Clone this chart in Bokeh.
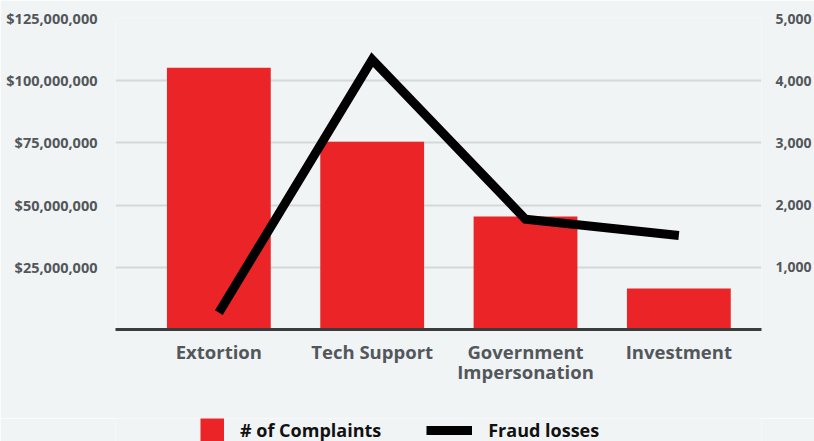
from bokeh.plotting import figure
from bokeh.layouts import column
from bokeh.models import (Range1d, LinearAxis, FixedTicker, NumeralTickFormatter,
                          Legend, LegendItem, ColumnDataSource)
from bokeh.embed import file_html
from bokeh.resources import INLINE

# ---- data ----
categories = ["Extortion", "Tech Support", "Government Impersonation", "Investment"]
tick_labels = ["Extortion", "Tech Support", "Government\nImpersonation", "Investment"]
complaints = [4210, 3020, 1815, 660]
fraud_losses = [6800000, 108500000, 44300000, 37800000]
money_ticks = [25000000, 50000000, 75000000, 100000000, 125000000]
count_ticks = [1000, 2000, 3000, 4000, 5000]
legend_labels = ["# of Complaints", "Fraud losses"]

BG = "#f1f4f5"
RED = "#ea2427"
TXT = "#53575b"
FONT = "Open Sans"

xs = list(range(len(categories)))
source = ColumnDataSource(dict(x=xs, complaints=complaints, losses=fraud_losses, name=categories))

p = figure(width=814, height=418, output_backend="svg", toolbar_location=None,
           x_range=Range1d(-0.674, 3.539), y_range=Range1d(0, 125000000),
           min_border_left=115, min_border_right=46, min_border_top=18, min_border_bottom=89,
           background_fill_color=BG, border_fill_color=BG, outline_line_color=None)
p.extra_y_ranges = {"count": Range1d(0, 5000)}

bars = p.vbar(x="x", top="complaints", width=0.677, source=source, y_range_name="count",
              fill_color=RED, line_color=None)
line = p.line(x="x", y="losses", source=source, line_color="black", line_width=9,
              line_join="miter", line_cap="butt")

# grid
p.xgrid.visible = False
p.ygrid.ticker = FixedTicker(ticks=[0] + money_ticks)
p.ygrid.grid_line_color = "#d5d8da"
p.ygrid.grid_line_width = 2

# left axis
ya = p.yaxis[0]
ya.ticker = FixedTicker(ticks=money_ticks)
ya.formatter = NumeralTickFormatter(format="$0,0")
ya.axis_line_color = None
ya.major_tick_line_color = None
ya.minor_tick_line_color = None
ya.major_label_standoff = 12
ya.major_label_text_font = FONT
ya.major_label_text_font_style = "bold"
ya.major_label_text_font_size = "14.5px"
ya.major_label_text_color = TXT

# right axis
ra = LinearAxis(y_range_name="count", ticker=FixedTicker(ticks=count_ticks),
                formatter=NumeralTickFormatter(format="0,0"))
ra.axis_line_color = None
ra.major_tick_line_color = None
ra.minor_tick_line_color = None
ra.major_label_standoff = 8
ra.major_label_text_font = FONT
ra.major_label_text_font_style = "bold"
ra.major_label_text_font_size = "14px"
ra.major_label_text_color = TXT
p.add_layout(ra, "right")

# bottom axis
xa = p.xaxis[0]
xa.ticker = FixedTicker(ticks=xs)
xa.major_label_overrides = {i: lab for i, lab in zip(xs, tick_labels)}
xa.axis_line_color = "#3a3d40"
xa.axis_line_width = 3
xa.major_tick_line_color = None
xa.minor_tick_line_color = None
xa.major_label_standoff = 3
xa.major_label_text_font = FONT
xa.major_label_text_font_style = "bold"
xa.major_label_text_font_size = "18.5px"
xa.major_label_text_color = TXT
xa.major_label_text_line_height = 0.8

# ---- legend strip (separate figure directly under the chart, same borders) ----
lg = figure(width=814, height=23, output_backend="svg", toolbar_location=None,
            x_range=Range1d(-0.674, 3.539), y_range=Range1d(0, 125000000),
            x_axis_type=None, y_axis_type=None,
            min_border_left=115, min_border_right=46, min_border_top=0, min_border_bottom=0,
            background_fill_color=BG, border_fill_color=BG, outline_line_color=None)
lg.grid.visible = False
lg.extra_y_ranges = {"count": Range1d(0, 5000)}
G = 46
# hidden twins of the series, used only for their legend swatches
sw_bar = lg.line(x="x", y="complaints", source=source, y_range_name="count",
                 line_color=RED, line_width=24, line_cap="butt",
                 line_dash="0 %d 24" % (G - 24), visible=False)
sw_line = lg.line(x="x", y="losses", source=source, line_color="black", line_width=9,
                  line_cap="butt", visible=False)
legend = Legend(items=[LegendItem(label=legend_labels[0], renderers=[sw_bar]),
                       LegendItem(label=legend_labels[1], renderers=[sw_line])],
                location=(63, -1), orientation="horizontal", border_line_color=None,
                background_fill_alpha=0, inactive_fill_alpha=0,
                padding=0, margin=0, spacing=45,
                glyph_width=G, glyph_height=24, label_standoff=16,
                label_text_font=FONT, label_text_font_style="bold",
                label_text_font_size="18px", label_text_color="#111111")
lg.add_layout(legend)

open("out.html", "w").write(file_html(column(p, lg, spacing=0), INLINE))
